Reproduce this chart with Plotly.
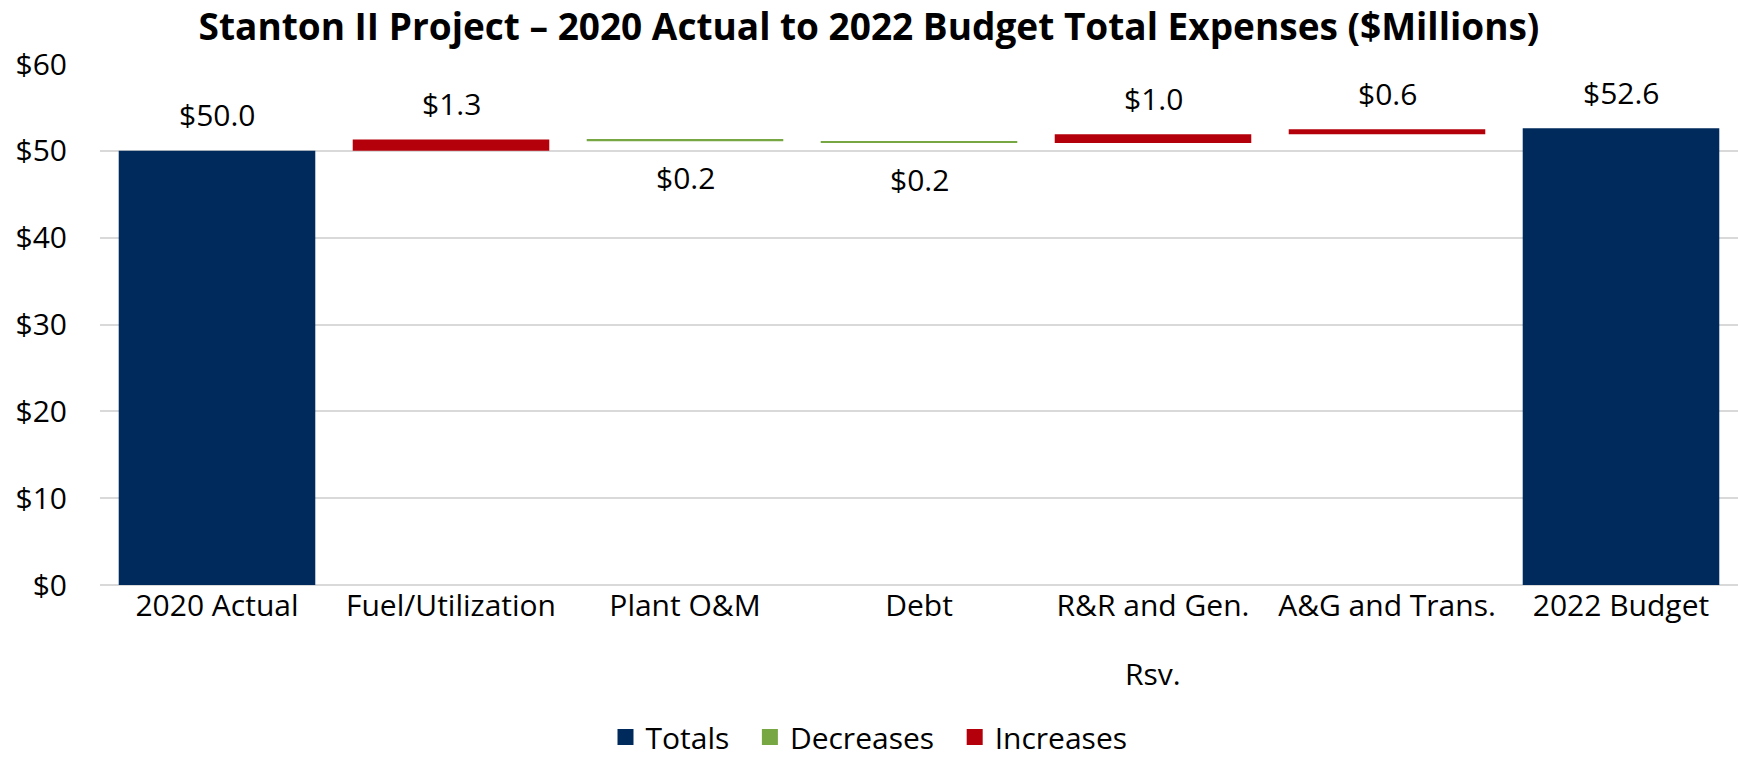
import plotly.graph_objects as go

categories = ["2020 Actual", "Fuel/Utilization", "Plant O&M", "Debt",
              "R&R and Gen. Rsv.", "A&G and Trans.", "2022 Budget"]
tick_text = ["2020 Actual", "Fuel/Utilization", "Plant O&M", "Debt",
             "R&R and Gen.", "A&G and Trans.", "2022 Budget"]
measures = ["total", "increase", "decrease", "decrease", "increase", "increase", "total"]
amounts = [50.0, 1.3, 0.2, 0.2, 1.0, 0.6, 52.6]
y_ticks = [0, 10, 20, 30, 40, 50, 60]

NAVY = "#002A5C"
GREEN = "#77A743"
RED = "#B4000A"
FONT = "Open Sans"
TXT = 30

# compute bars
groups = {"total": ([], [], []), "decrease": ([], [], []), "increase": ([], [], [])}
running = 0.0
label_pos = []
for cat, m, v in zip(categories, measures, amounts):
    xs, ys, bs = groups[m]
    if m == "total":
        xs.append(cat); ys.append(v); bs.append(0)
        running = v
        label_pos.append((cat, v, 1))
    elif m == "increase":
        xs.append(cat); ys.append(v); bs.append(running)
        running += v
        label_pos.append((cat, running, 1))
    else:
        xs.append(cat); ys.append(-v); bs.append(running)
        running -= v
        label_pos.append((cat, running, -1))

fig = go.Figure()
names = {"total": "Totals\u00a0\u00a0", "decrease": "Decreases\u00a0\u00a0", "increase": "Increases"}
colors = {"total": NAVY, "decrease": GREEN, "increase": RED}
for key in ["total", "decrease", "increase"]:
    xs, ys, bs = groups[key]
    fig.add_trace(go.Bar(x=xs, y=ys, base=bs, marker=dict(color=colors[key], line=dict(width=0)),
                         showlegend=False, hoverinfo="skip"))
# legend entries
for key in ["total", "decrease", "increase"]:
    fig.add_trace(go.Scatter(x=[None], y=[None], mode="markers", name=names[key],
                             marker=dict(symbol="square", size=20, color=colors[key])))

annotations = []
for (cat, yv, d), v in zip(label_pos, amounts):
    annotations.append(dict(x=cat, y=yv, xref="x", yref="y", text=f"${v:.1f}",
                            showarrow=False, yanchor="middle", yshift=36 * d,
                            font=dict(family=FONT, size=TXT, color="#000")))
annotations.append(dict(x=categories[4], y=0, xref="x", yref="y", text="Rsv.",
                        showarrow=False, yanchor="middle", yshift=-88,
                        font=dict(family=FONT, size=TXT, color="#000")))

fig.update_layout(
    width=1738, height=758,
    margin=dict(l=100, r=0, t=64, b=173),
    paper_bgcolor="white", plot_bgcolor="white",
    barmode="overlay", bargap=0.16,
    title=dict(text="<b>Stanton II Project – 2020 Actual to 2022 Budget Total Expenses ($Millions)</b>",
               x=0.5, xanchor="center", xref="container", y=1 - 27 / 758, yref="container",
               yanchor="middle", font=dict(family=FONT, size=37, color="#000")),
    legend=dict(orientation="h", x=0.5, xanchor="center", xref="container",
                y=1 - 737 / 758, yref="container", yanchor="middle",
                font=dict(family=FONT, size=TXT, color="#000"), itemwidth=30),
    annotations=annotations,
    font=dict(family=FONT, size=TXT, color="#000"),
)
fig.update_xaxes(categoryorder="array", categoryarray=categories, tickvals=categories,
                 ticktext=tick_text, showgrid=False, showline=False, ticks="",
                 tickfont=dict(family=FONT, size=TXT, color="#000"))
fig.update_yaxes(range=[0, 60], tickvals=y_ticks, ticktext=[f"${t}" for t in y_ticks],
                 showgrid=True, gridcolor="#D9D9D9", gridwidth=2, zeroline=True,
                 zerolinecolor="#D9D9D9", zerolinewidth=2, showline=False, ticks="",
                 ticklabelstandoff=32,
                 tickfont=dict(family=FONT, size=TXT, color="#000"))

fig.write_html("out.html")
